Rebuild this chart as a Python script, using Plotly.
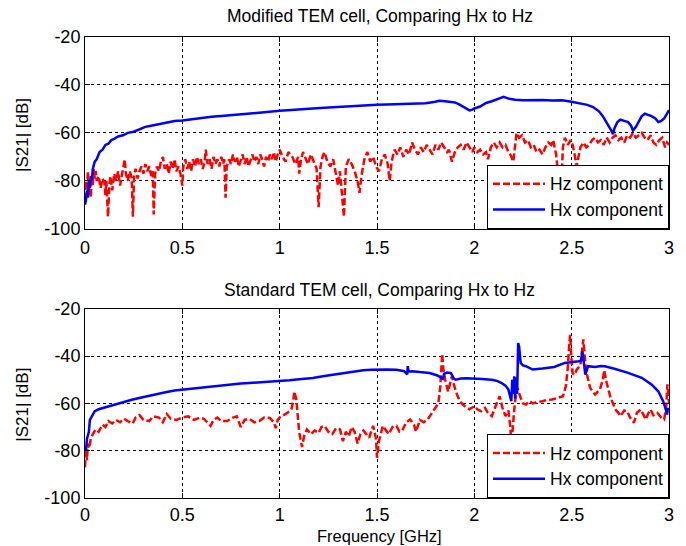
import plotly.graph_objects as go

# ---------------- data ----------------
x_ticks = [0, 0.5, 1, 1.5, 2, 2.5, 3]
x_ticklabels = ["0", "0.5", "1", "1.5", "2", "2.5", "3"]
y_ticks = [-100, -80, -60, -40, -20]
y_ticklabels = ["-100", "-80", "-60", "-40", "-20"]

titles = ["Modified TEM cell, Comparing Hx to Hz", "Standard TEM cell, Comparing Hx to Hz"]
series_names = ["Hz component", "Hx component"]

# Modified TEM cell, Hz component (red dashed)
mod_hz_f = [0.000, 0.005, 0.010, 0.015, 0.020, 0.025, 0.030, 0.035, 0.040, 0.045, 0.050, 0.055, 0.060, 0.070, 0.080, 0.090,
            0.100, 0.105, 0.110, 0.118, 0.125, 0.130, 0.140, 0.150, 0.160, 0.170, 0.180, 0.190, 0.200, 0.204, 0.210, 0.220,
            0.230, 0.240, 0.246, 0.252, 0.260, 0.270, 0.280, 0.290, 0.300, 0.310, 0.320, 0.330, 0.340, 0.348, 0.353, 0.360,
            0.370, 0.380, 0.390, 0.400, 0.410, 0.420, 0.430, 0.440, 0.450, 0.460, 0.470, 0.480, 0.490, 0.500, 0.505, 0.515,
            0.525, 0.535, 0.545, 0.555, 0.565, 0.575, 0.585, 0.595, 0.605, 0.615, 0.620, 0.630, 0.640, 0.650, 0.660, 0.670,
            0.680, 0.690, 0.700, 0.710, 0.716, 0.722, 0.728, 0.740, 0.750, 0.760, 0.770, 0.780, 0.790, 0.800, 0.810, 0.820,
            0.830, 0.840, 0.850, 0.860, 0.870, 0.880, 0.890, 0.900, 0.910, 0.920, 0.930, 0.940, 0.950, 0.960, 0.970, 0.980,
            0.990, 1.000, 1.015, 1.030, 1.045, 1.065, 1.080, 1.095, 1.100, 1.110, 1.120, 1.130, 1.145, 1.160, 1.175, 1.190,
            1.200, 1.210, 1.220, 1.230, 1.245, 1.260, 1.275, 1.290, 1.300, 1.310, 1.320, 1.330, 1.340, 1.355, 1.370, 1.385,
            1.400, 1.410, 1.420, 1.435, 1.450, 1.465, 1.480, 1.495, 1.510, 1.525, 1.540, 1.555, 1.565, 1.575, 1.590, 1.605,
            1.620, 1.635, 1.650, 1.665, 1.680, 1.695, 1.710, 1.725, 1.740, 1.755, 1.770, 1.785, 1.800, 1.815, 1.830, 1.845,
            1.860, 1.870, 1.885, 1.900, 1.915, 1.930, 1.945, 1.960, 1.975, 1.990, 2.000, 2.015, 2.030, 2.045, 2.060, 2.070,
            2.085, 2.100, 2.115, 2.130, 2.145, 2.160, 2.170, 2.185, 2.200, 2.210, 2.217, 2.230, 2.245, 2.260, 2.275, 2.290,
            2.305, 2.320, 2.335, 2.350, 2.365, 2.380, 2.395, 2.405, 2.420, 2.430, 2.440, 2.448, 2.455, 2.465, 2.480, 2.495,
            2.505, 2.515, 2.525, 2.535, 2.545, 2.560, 2.575, 2.590, 2.605, 2.620, 2.635, 2.650, 2.665, 2.680, 2.695, 2.710,
            2.725, 2.740, 2.755, 2.770, 2.785, 2.800, 2.815, 2.830, 2.845, 2.860, 2.875, 2.890, 2.905, 2.920, 2.935, 2.950,
            2.965, 2.980, 2.990, 3.000]
mod_hz_v = [-88, -80, -84, -76, -86, -79, -87, -78, -82, -75, -79, -76, -80, -78, -83, -79,
            -81, -86, -80, -95, -82, -78, -84, -77, -80, -76, -82, -78, -74, -71, -77, -80,
            -76, -79, -95, -78, -75, -79, -76, -74, -77, -73, -76, -74, -78, -76, -94, -77,
            -74, -76, -72, -70, -75, -73, -77, -72, -75, -71, -76, -74, -77, -82, -74, -71,
            -75, -72, -76, -71, -74, -70, -73, -71, -75, -72, -67, -73, -71, -75, -70, -73,
            -71, -74, -70, -73, -71, -87, -74, -71, -73, -69, -72, -70, -74, -71, -69, -73,
            -70, -74, -71, -69, -72, -70, -73, -69, -71, -74, -70, -72, -69, -71, -68, -72,
            -69, -67, -70, -72, -68, -70, -73, -70, -77, -71, -68, -70, -73, -69, -72, -75,
            -91, -74, -70, -68, -72, -74, -71, -77, -82, -76, -84, -95, -74, -71, -73, -76,
            -80, -85, -78, -71, -68, -72, -70, -74, -76, -71, -69, -73, -80, -72, -67, -69,
            -66, -70, -67, -69, -64, -67, -69, -66, -68, -65, -67, -69, -65, -67, -64, -66,
            -68, -67, -72, -68, -66, -65, -67, -64, -66, -68, -66, -68, -67, -69, -68, -71,
            -66, -64, -66, -64, -66, -65, -67, -69, -72, -65, -60, -62, -61, -64, -63, -66,
            -65, -68, -67, -69, -66, -64, -65, -63, -69, -77, -86, -80, -66, -62, -65, -63,
            -65, -69, -74, -70, -66, -64, -66, -65, -63, -62, -64, -63, -65, -62, -64, -62,
            -61, -63, -62, -64, -61, -62, -60, -62, -61, -60, -62, -63, -61, -64, -65, -63,
            -62, -66, -64, -65]

# Modified TEM cell, Hx component (blue solid)
mod_hx_f = [0.000, 0.005, 0.010, 0.015, 0.020, 0.025, 0.030, 0.035, 0.040, 0.050, 0.060, 0.075, 0.090, 0.105, 0.120, 0.135,
            0.150, 0.170, 0.195, 0.220, 0.250, 0.280, 0.310, 0.340, 0.370, 0.400, 0.430, 0.460, 0.500, 0.550, 0.600, 0.650,
            0.700, 0.760, 0.820, 0.880, 0.940, 1.000, 1.060, 1.120, 1.170, 1.230, 1.290, 1.340, 1.400, 1.450, 1.500, 1.550,
            1.600, 1.650, 1.700, 1.750, 1.800, 1.820, 1.850, 1.880, 1.900, 1.920, 1.940, 1.960, 1.975, 1.990, 2.000, 2.030,
            2.060, 2.090, 2.120, 2.150, 2.180, 2.210, 2.250, 2.300, 2.350, 2.400, 2.450, 2.500, 2.540, 2.580, 2.610, 2.640,
            2.660, 2.680, 2.700, 2.712, 2.720, 2.735, 2.750, 2.770, 2.790, 2.805, 2.815, 2.830, 2.845, 2.860, 2.876, 2.895,
            2.910, 2.930, 2.945, 2.960, 2.975, 2.990, 3.000]
mod_hx_v = [-90, -88, -84, -87, -80, -83, -78, -80, -75, -72, -71, -68, -67, -65, -64.5, -63,
            -62.5, -61.5, -61, -60, -59.5, -58.5, -57.5, -57, -56.5, -56, -55.5, -55, -54.8, -54.2, -53.8, -53.3,
            -53, -52.5, -52.1, -51.8, -51.2, -50.8, -50.5, -50, -49.8, -49.5, -49.2, -48.8, -48.6, -48.5, -48.3, -48.2,
            -48, -48, -47.9, -47.6, -47, -46.6, -46.8, -47, -47.3, -48, -49, -50, -50.6, -50.3, -49.8, -49,
            -47.5, -46.8, -46, -45, -45.8, -46.2, -46.4, -46.2, -46.3, -46.5, -46.4, -47, -47.6, -48.3, -49.2, -51,
            -53, -55.5, -58.5, -60.5, -58, -55.5, -54.5, -55, -55.5, -57, -59, -57.5, -55.5, -53, -52, -52.5,
            -53, -54, -55.5, -55, -54, -52, -50.5]

# Standard TEM cell, Hz component (red dashed)
std_hz_f = [0.000, 0.005, 0.010, 0.015, 0.020, 0.030, 0.040, 0.055, 0.070, 0.090, 0.105, 0.120, 0.140, 0.160, 0.180, 0.200,
            0.220, 0.245, 0.260, 0.280, 0.300, 0.330, 0.350, 0.380, 0.400, 0.420, 0.440, 0.470, 0.500, 0.530, 0.560, 0.590,
            0.610, 0.630, 0.645, 0.660, 0.680, 0.700, 0.730, 0.760, 0.780, 0.800, 0.820, 0.845, 0.870, 0.895, 0.920, 0.950,
            0.970, 0.980, 0.990, 1.000, 1.020, 1.040, 1.060, 1.070, 1.075, 1.085, 1.090, 1.100, 1.115, 1.125, 1.140, 1.160,
            1.180, 1.200, 1.215, 1.230, 1.250, 1.270, 1.290, 1.310, 1.325, 1.340, 1.355, 1.370, 1.385, 1.400, 1.415, 1.430,
            1.445, 1.460, 1.480, 1.495, 1.500, 1.510, 1.530, 1.545, 1.560, 1.580, 1.600, 1.615, 1.630, 1.650, 1.670, 1.690,
            1.700, 1.720, 1.740, 1.760, 1.780, 1.800, 1.815, 1.825, 1.830, 1.835, 1.840, 1.850, 1.865, 1.875, 1.885, 1.895,
            1.905, 1.920, 1.935, 1.955, 1.975, 2.000, 2.015, 2.035, 2.055, 2.070, 2.090, 2.110, 2.130, 2.145, 2.160, 2.175,
            2.185, 2.190, 2.197, 2.205, 2.215, 2.222, 2.235, 2.250, 2.265, 2.285, 2.300, 2.320, 2.350, 2.375, 2.400, 2.430,
            2.455, 2.470, 2.480, 2.487, 2.492, 2.498, 2.505, 2.515, 2.525, 2.545, 2.553, 2.560, 2.567, 2.575, 2.595, 2.620,
            2.645, 2.660, 2.667, 2.680, 2.700, 2.725, 2.740, 2.750, 2.770, 2.785, 2.800, 2.820, 2.835, 2.855, 2.870, 2.880,
            2.895, 2.905, 2.920, 2.940, 2.960, 2.975, 2.985, 2.992, 3.000]
std_hz_v = [-87, -80, -84, -77, -79, -75, -73, -71, -72, -69, -70, -67.5, -68.5, -67, -68, -66.5,
            -67.5, -68.5, -66, -65, -67, -67.5, -65.5, -66, -68, -64.5, -66.5, -67, -66, -65.5, -67, -66,
            -66.5, -68, -69.5, -67, -66, -67.5, -67.5, -66, -65.5, -70, -67, -66.5, -68, -67.5, -66, -66.2,
            -68, -70.5, -67, -66, -65, -64, -62.5, -59, -55, -58, -62.5, -72, -78.5, -74, -71, -73,
            -71.5, -72.5, -70, -69.5, -72, -73, -70.5, -71, -76, -72, -74, -70, -72, -77, -73, -71.5,
            -73, -74.5, -69.5, -75, -83, -76, -69.5, -71, -73, -70, -69.5, -72, -71.5, -68, -66.8, -69,
            -72, -67, -68, -66.8, -64.5, -62, -60, -53, -47, -39, -45, -50, -55, -51, -48.5, -52,
            -55, -58, -60, -61.5, -62.5, -61.2, -62.5, -63.3, -61.9, -64, -65.4, -61, -57, -62, -65.4, -63,
            -70, -78, -70, -62.6, -55, -53.5, -57, -60, -60.5, -59, -60, -59.5, -59.1, -58.5, -58.4, -57.5,
            -57, -52.8, -45, -36, -31, -40, -47.3, -48, -45.9, -43.8, -38, -33, -40, -46.6, -53.5, -56.3,
            -54.2, -50, -46, -51.4, -57.7, -62.6, -64, -65.4, -63, -63.3, -66, -68.2, -64, -62.6, -65, -66.8,
            -64, -62.6, -65, -64, -66, -66.8, -62, -52, -60]

# Standard TEM cell, Hx component (blue solid)
std_hx_f = [0.000, 0.005, 0.010, 0.020, 0.025, 0.040, 0.050, 0.070, 0.090, 0.120, 0.160, 0.200, 0.245, 0.290, 0.330, 0.380,
            0.420, 0.460, 0.505, 0.550, 0.590, 0.630, 0.675, 0.720, 0.760, 0.800, 0.845, 0.900, 0.950, 1.000, 1.050, 1.100,
            1.170, 1.230, 1.290, 1.340, 1.390, 1.430, 1.470, 1.500, 1.550, 1.600, 1.640, 1.655, 1.658, 1.662, 1.680, 1.720,
            1.770, 1.810, 1.830, 1.838, 1.845, 1.860, 1.880, 1.895, 1.905, 1.930, 1.960, 2.000, 2.040, 2.090, 2.120, 2.140,
            2.160, 2.175, 2.185, 2.190, 2.195, 2.200, 2.205, 2.210, 2.215, 2.220, 2.225, 2.230, 2.238, 2.250, 2.265, 2.300,
            2.350, 2.410, 2.465, 2.500, 2.535, 2.548, 2.555, 2.560, 2.570, 2.585, 2.620, 2.650, 2.670, 2.720, 2.790, 2.860,
            2.910, 2.945, 2.970, 2.985, 2.990, 2.995, 3.000]
std_hx_v = [-78, -80, -75, -72, -67, -64.5, -63.3, -62.5, -62, -61.2, -60.5, -59.5, -58.4, -57.5, -56.7, -55.8,
            -55.2, -54.6, -54.2, -53.6, -53.2, -52.8, -52.4, -52.1, -51.8, -51.6, -51.4, -51.1, -51, -50.7, -50.2, -49.8,
            -49.3, -48.4, -47.6, -46.9, -46.4, -46, -45.8, -45.7, -45.7, -45.8, -46.4, -47.8, -44.3, -46.6, -46.4, -46.8,
            -47.2, -48.2, -49.2, -49.6, -47.5, -47, -47.2, -49.5, -50, -49.5, -49.4, -49.4, -49.7, -50, -50.6, -51.4,
            -52.5, -54.2, -57, -59.1, -50, -56, -48.6, -58, -49, -56, -34.5, -36, -42.9, -44, -44.3, -45.7,
            -45.3, -44.6, -42.9, -42.7, -42.2, -42, -38, -41, -47.8, -44.3, -44.6, -44.2, -44.3, -45.4, -47.1, -49.2,
            -52, -54.9, -59.1, -63, -64.7, -62, -63]

# ---------------- figure ----------------
RED = "#ff0000"
BLUE = "#0000ff"
FONT = "Liberation Sans"
FS = 18

fig = go.Figure()
fig.add_trace(go.Scatter(x=mod_hz_f, y=mod_hz_v, mode="lines", name=series_names[0],
                         line=dict(color=RED, width=2.5, dash="7px,3px"), xaxis="x", yaxis="y", legend="legend"))
fig.add_trace(go.Scatter(x=mod_hx_f, y=mod_hx_v, mode="lines", name=series_names[1],
                         line=dict(color=BLUE, width=2.5), xaxis="x", yaxis="y", legend="legend"))
fig.add_trace(go.Scatter(x=std_hz_f, y=std_hz_v, mode="lines", name=series_names[0],
                         line=dict(color=RED, width=2.5, dash="7px,3px"), xaxis="x2", yaxis="y2", legend="legend2"))
fig.add_trace(go.Scatter(x=std_hx_f, y=std_hx_v, mode="lines", name=series_names[1],
                         line=dict(color=BLUE, width=2.5), xaxis="x2", yaxis="y2", legend="legend2"))

W, H = 686, 546
ML, MR, MT, MB = 85, 16.5, 37, 47.5
pw = W - ML - MR
ph = H - MT - MB


def py(pix):
    return (H - MB - pix) / ph


def px(pix):
    return (pix - ML) / pw


top_dom = [py(229), 1.0]
bot_dom = [0.0, py(309)]

axis_common = dict(showline=True, linecolor="black", linewidth=1, mirror="ticks",
                   ticks="inside", ticklen=5, tickcolor="black", tickwidth=1,
                   showgrid=True, gridcolor="black", gridwidth=1, griddash="3px,3px",
                   zeroline=False, tickfont=dict(family=FONT, size=FS, color="black"))

legend_common = dict(x=1, xanchor="right", yanchor="bottom", bgcolor="white",
                     bordercolor="black", borderwidth=1, font=dict(family=FONT, size=17.5, color="black"),
                     tracegroupgap=0, itemwidth=52)

fig.update_layout(
    width=W, height=H,
    margin=dict(l=ML, r=MR, t=MT, b=MB),
    paper_bgcolor="white", plot_bgcolor="white",
    font=dict(family=FONT, size=FS, color="black"),
    xaxis=dict(domain=[0, 1], anchor="y", range=[0, 3], tickvals=x_ticks, ticktext=x_ticklabels,
               ticklabelstandoff=3, **axis_common),
    yaxis=dict(domain=top_dom, anchor="x", range=[-100, -20], tickvals=y_ticks, ticktext=y_ticklabels, **axis_common),
    xaxis2=dict(domain=[0, 1], anchor="y2", range=[0, 3], tickvals=x_ticks, ticktext=x_ticklabels,
                ticklabelstandoff=0, **axis_common),
    yaxis2=dict(domain=bot_dom, anchor="x2", range=[-100, -20], tickvals=y_ticks, ticktext=y_ticklabels, **axis_common),
    legend=dict(y=top_dom[0], **legend_common),
    legend2=dict(y=bot_dom[0], **legend_common),
    showlegend=True,
    annotations=[
        dict(text=titles[0], xref="paper", yref="paper", x=px(380), y=py(16), xanchor="center", yanchor="middle",
             showarrow=False, font=dict(family=FONT, size=17.5, color="black")),
        dict(text=titles[1], xref="paper", yref="paper", x=px(380), y=py(290), xanchor="center", yanchor="middle",
             showarrow=False, font=dict(family=FONT, size=17.5, color="black")),
        dict(text="|S21| [dB]", xref="paper", yref="paper", x=px(23), y=py(135),
             xanchor="center", yanchor="middle", textangle=-90, showarrow=False,
             font=dict(family=FONT, size=17, color="black")),
        dict(text="|S21| [dB]", xref="paper", yref="paper", x=px(23), y=py(405),
             xanchor="center", yanchor="middle", textangle=-90, showarrow=False,
             font=dict(family=FONT, size=17, color="black")),
        dict(text="Frequency [GHz]", xref="paper", yref="paper", x=px(380), y=py(537),
             xanchor="center", yanchor="middle", showarrow=False,
             font=dict(family=FONT, size=16.5, color="black")),
    ],
)

fig.write_html("out.html", config={"displayModeBar": False},
               post_script="document.body.style.margin='0';document.body.style.overflow='hidden';")
